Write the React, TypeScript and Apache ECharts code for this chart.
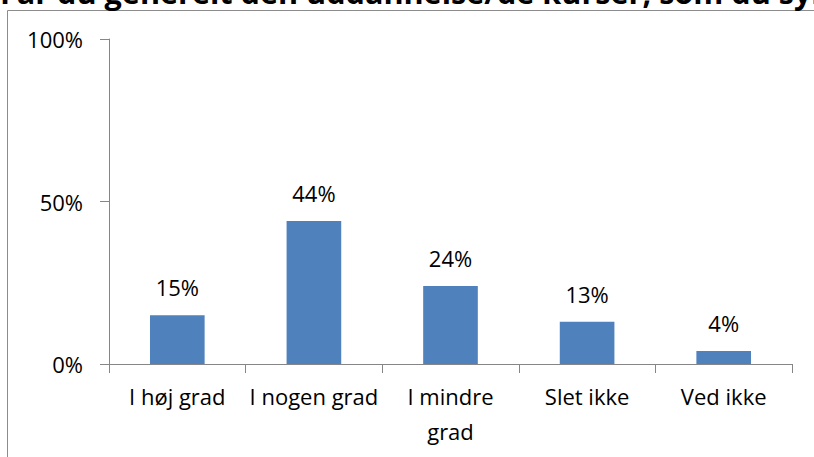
import React, { useEffect, useRef } from "react";
import * as echarts from "echarts";

const titleText = "Får du generelt den uddannelse/de kurser, som du synes, at du har brug for?";
const categories = ["I høj grad", "I nogen grad", "I mindre grad", "Slet ikke", "Ved ikke"];
const values = [15, 44, 24, 13, 4];
const yTicks = [0, 50, 100];

const FONT = '"Open Sans", "Noto Sans", sans-serif';

export default function App() {
  const ref = useRef<HTMLDivElement>(null);
  useEffect(() => {
    if (!ref.current) return;
    const chart = echarts.init(ref.current, null, { renderer: "svg" });
    chart.setOption({
      animation: false,
      backgroundColor: "#ffffff",
      grid: { left: 109, right: 22, top: 39, bottom: 93, containLabel: false },
      graphic: [
        {
          type: "rect",
          shape: { x: 7.5, y: 10.5, width: 900, height: 600 },
          style: { fill: "none", stroke: "#8c8c8c", lineWidth: 1 },
          silent: true,
          z: -1,
        },
        {
          type: "text",
          x: 0,
          y: 7,
          style: {
            text: titleText,
            font: `bold 30.6px ${FONT}`,
            fill: "#000000",
            verticalAlign: "bottom",
          },
          silent: true,
        },
      ],
      xAxis: {
        type: "category",
        data: categories,
        axisLine: { show: true, lineStyle: { color: "#868686", width: 1 } },
        axisTick: { show: true, length: 9, alignWithLabel: false, lineStyle: { color: "#868686" } },
        axisLabel: {
          color: "#000000",
          fontFamily: FONT,
          fontSize: 22,
          lineHeight: 35,
          margin: 14,
          interval: 0,
          formatter: (v: string) => (v === "I mindre grad" ? "I mindre\ngrad" : v),
        },
      },
      yAxis: {
        type: "value",
        min: 0,
        max: 100,
        interval: 50,
        axisLine: { show: true, lineStyle: { color: "#868686", width: 1 } },
        axisTick: { show: true, length: 9, lineStyle: { color: "#868686" } },
        splitLine: { show: false },
        axisLabel: {
          color: "#000000",
          fontFamily: FONT,
          fontSize: 22,
          margin: 26,
          formatter: (v: number) => (yTicks.includes(v) ? `${v}%` : ""),
        },
      },
      series: [
        {
          type: "bar",
          data: values,
          barWidth: "40%",
          itemStyle: { color: "#4F81BD" },
          label: {
            show: true,
            position: "top",
            distance: 14,
            color: "#000000",
            fontFamily: FONT,
            fontSize: 22,
            lineHeight: 28,
            formatter: (p: any) => `${p.value}%`,
          },
        },
      ],
    });
    return () => chart.dispose();
  }, []);
  return (
    <div
      ref={ref}
      style={{ position: "absolute", left: 0, top: 0, width: 814, height: 457 }}
    />
  );
}
